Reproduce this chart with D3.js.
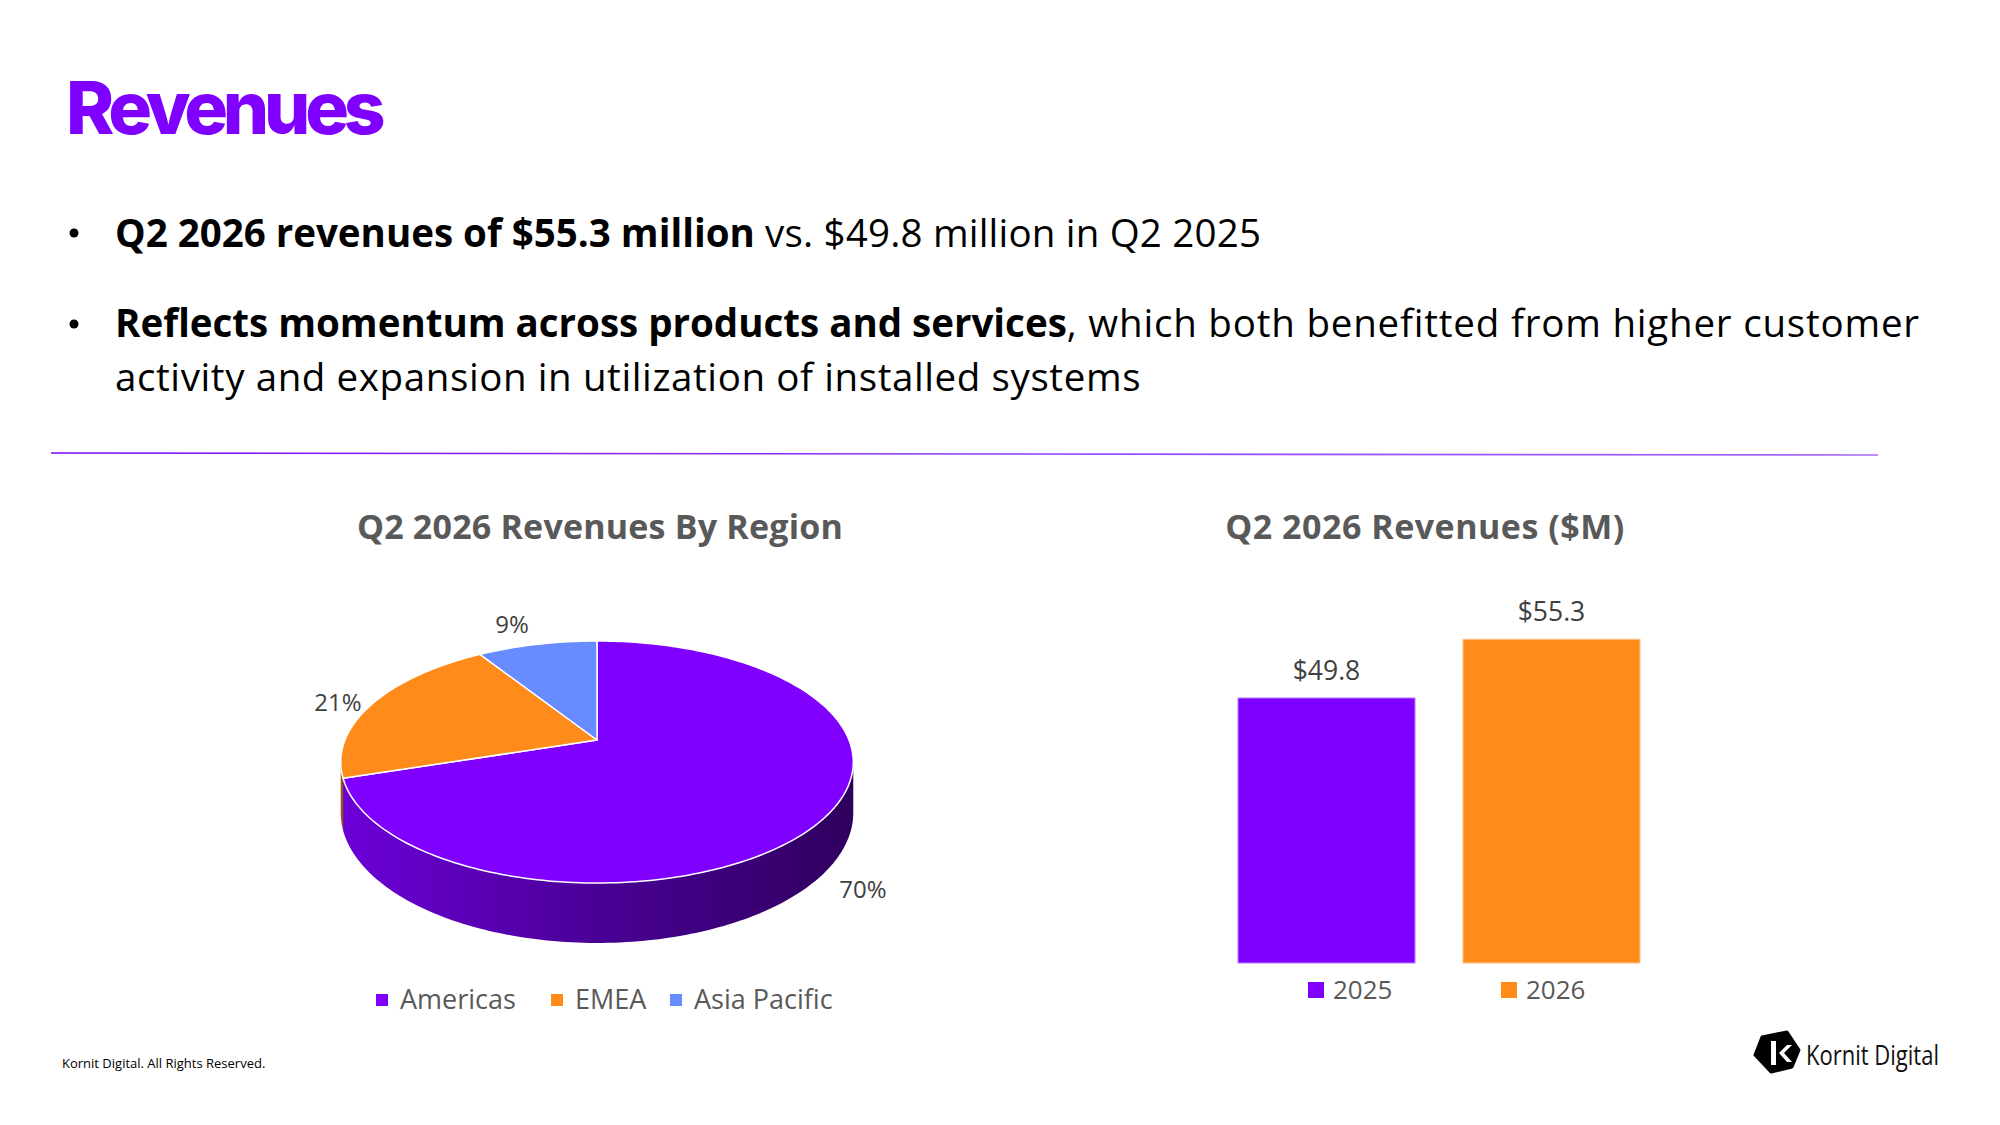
<!DOCTYPE html>
<html>
<head>
<meta charset="utf-8">
<script src="https://cdn.jsdelivr.net/npm/d3@7"></script>
<style>
  body { margin: 0; background: #fff; }
  text { font-family: "Open Sans", sans-serif; }
</style>
</head>
<body>
<script>
// chart values
var regions = ["Americas", "EMEA", "Asia Pacific"];
var regionShares = [70, 21, 9];
var regionColors = ["#8000FF", "#FF8C1A", "#668CFF"];
var regionSides = ["url(#sideGrad)", "#9a520f", "#3d5499"];

var years = ["2025", "2026"];
var revenues = [49.8, 55.3];
var yearColors = ["#8000FF", "#FF8C1A"];

var W = 2000, H = 1125;

var svg = d3.select("body")
            .append("svg")
            .attr("width", W)
            .attr("height", H);

var defs = svg.append("defs");
var lineGrad = defs.append("linearGradient").attr("id", "lineGrad");
lineGrad.append("stop").attr("offset", "0%").attr("stop-color", "#8000FF");
lineGrad.append("stop").attr("offset", "100%").attr("stop-color", "#A66BFF");

var sideGrad = defs.append("linearGradient")
                   .attr("id", "sideGrad")
                   .attr("gradientUnits", "userSpaceOnUse")
                   .attr("x1", 340).attr("x2", 853).attr("y1", 0).attr("y2", 0);
sideGrad.append("stop").attr("offset", "0%").attr("stop-color", "#6C00D8");
sideGrad.append("stop").attr("offset", "50%").attr("stop-color", "#4A0096");
sideGrad.append("stop").attr("offset", "100%").attr("stop-color", "#2F005E");

// heading + bullets
svg.append("text")
   .attr("x", 66).attr("y", 134)
   .style("font-family", "Inter")
   .style("font-weight", 800)
   .style("font-size", "73px")
   .style("letter-spacing", "-5.2px")
   .attr("fill", "#8000FF")
   .text("Revenues");

var bullets = [
  {y: 247, ls: "0.2px", parts: [["Q2 2026 revenues of $55.3 million", 700], [" vs. $49.8 million in Q2 2025", 400]]},
  {y: 337, ls: "0.8px", parts: [["Reflects momentum across products and services", 700], [", which both benefitted from higher customer", 400]]},
  {y: 391, ls: "0.6px", parts: [["activity and expansion in utilization of installed systems", 400]]}
];

svg.selectAll(".dot")
   .data([233, 324])
   .enter()
   .append("circle")
   .attr("cx", 74).attr("cy", function(d) { return d; })
   .attr("r", 4.5)
   .attr("fill", "#000");

bullets.forEach(function(b) {
  var t = svg.append("text")
             .attr("x", 115).attr("y", b.y)
             .style("font-size", "38.5px")
             .attr("fill", "#000");
  b.parts.forEach(function(p) {
    t.append("tspan")
     .style("font-weight", p[1])
     .style("letter-spacing", p[1] == 700 ? "0px" : b.ls)
     .text(p[0]);
  });
});

svg.append("line")
   .attr("x1", 51).attr("y1", 453)
   .attr("x2", 1878).attr("y2", 455)
   .attr("stroke", "url(#lineGrad)")
   .attr("stroke-width", 1.6);

// chart titles
svg.selectAll(".ctitle")
   .data([["Q2 2026 Revenues By Region", 600, "0.2px"], ["Q2 2026 Revenues ($M)", 1425, "0.5px"]])
   .enter()
   .append("text")
   .attr("x", function(d) { return d[1]; })
   .attr("y", 539)
   .attr("text-anchor", "middle")
   .style("font-weight", 700)
   .style("font-size", "34px")
   .style("letter-spacing", function(d) { return d[2]; })
   .attr("fill", "#595959")
   .text(function(d) { return d[0]; });

// 3D pie
var cx = 597, cy = 740, kR = 252, sR = 117, q = 0.182, depth = 49;
function proj(a, h) {
  var den = 1 + q * Math.cos(a);
  return [cx + kR * Math.sin(a) / den, cy + (-sR * Math.cos(a) + h) / den];
}
function arcPts(a0, a1, h) {
  var n = Math.max(2, Math.ceil((a1 - a0) / 0.02));
  return d3.range(n + 1).map(function(i) { return proj(a0 + (a1 - a0) * i / n, h); });
}

var slices = d3.pie().sort(null).value(function(d) { return d; })(regionShares);
var visL = Math.acos(-q), visR = 2 * Math.PI - Math.acos(-q);

var pieG = svg.append("g");
pieG.selectAll(".side")
    .data(slices.filter(function(d) { return d.endAngle > visL && d.startAngle < visR; }))
    .enter()
    .append("path")
    .attr("d", function(d) {
      var a0 = Math.max(d.startAngle, visL), a1 = Math.min(d.endAngle, visR);
      var pts = arcPts(a0, a1, 0).concat(arcPts(a0, a1, depth).reverse());
      return d3.line()(pts) + "Z";
    })
    .attr("fill", function(d) { return regionSides[d.index]; });

pieG.selectAll(".top")
    .data(slices)
    .enter()
    .append("path")
    .attr("d", function(d) {
      var pts = [[cx, cy]].concat(arcPts(d.startAngle, d.endAngle, 0));
      return d3.line()(pts) + "Z";
    })
    .attr("fill", function(d) { return regionColors[d.index]; })
    .attr("stroke", "#fff")
    .attr("stroke-width", 1.5)
    .attr("stroke-linejoin", "round");

var pctPos = [[863, 890], [338, 703], [512, 625]];
pieG.selectAll(".pct")
    .data(slices)
    .enter()
    .append("text")
    .attr("x", function(d) { return pctPos[d.index][0]; })
    .attr("y", function(d) { return pctPos[d.index][1]; })
    .attr("text-anchor", "middle")
    .attr("dy", "0.35em")
    .style("font-size", "24px")
    .attr("fill", "#404040")
    .text(function(d) { return d.data + "%"; });

// pie legend
var pieLegX = [376, 551, 670];
var pl = svg.selectAll(".pleg")
            .data(regions)
            .enter()
            .append("g")
            .attr("transform", function(d, i) { return "translate(" + pieLegX[i] + ",1000)"; });
pl.append("rect").attr("x", 0).attr("y", -6).attr("width", 12).attr("height", 12)
  .attr("fill", function(d, i) { return regionColors[i]; });
pl.append("text").attr("x", 24).attr("dy", "0.35em")
  .style("font-size", "27px").attr("fill", "#595959")
  .text(function(d) { return d; });

// bar chart
var x = d3.scaleBand().domain(years).range([1238, 1640]).paddingInner(0.2133).paddingOuter(0);
var y = d3.scaleLinear().domain([25, 60]).range([963, 589]);

svg.selectAll(".bar")
   .data(revenues)
   .enter()
   .append("rect")
   .attr("x", function(d, i) { return x(years[i]); })
   .attr("y", function(d) { return y(d); })
   .attr("width", x.bandwidth())
   .attr("height", function(d) { return y(25) - y(d); })
   .attr("fill", function(d, i) { return yearColors[i]; })
   .attr("stroke", function(d, i) { return i == 0 ? "#B37BFF" : "#FFC28A"; })
   .attr("stroke-width", 1);

svg.selectAll(".blab")
   .data(revenues)
   .enter()
   .append("text")
   .attr("x", function(d, i) { return x(years[i]) + x.bandwidth() / 2; })
   .attr("y", function(d) { return y(d) - 18; })
   .attr("text-anchor", "middle")
   .style("font-size", "26.5px")
   .attr("fill", "#404040")
   .text(function(d) { return "$" + d.toFixed(1); });

var barLegX = [1308, 1501];
var bl = svg.selectAll(".bleg")
            .data(years)
            .enter()
            .append("g")
            .attr("transform", function(d, i) { return "translate(" + barLegX[i] + ",990)"; });
bl.append("rect").attr("x", 0).attr("y", -8).attr("width", 16).attr("height", 16)
  .attr("fill", function(d, i) { return yearColors[i]; });
bl.append("text").attr("x", 25).attr("dy", "0.35em")
  .style("font-size", "26px").attr("fill", "#595959")
  .text(function(d) { return d; });

// footer
svg.append("text")
   .attr("x", 62).attr("y", 1068)
   .style("font-size", "13px")
   .attr("fill", "#000")
   .text("Kornit Digital. All Rights Reserved.");

var logo = svg.append("g");
logo.append("path")
    .attr("d", d3.line()([[1762, 1037], [1787, 1032], [1799, 1050], [1792, 1067], [1771, 1072], [1755, 1055]]) + "Z")
    .attr("fill", "#000")
    .attr("stroke", "#000")
    .attr("stroke-width", 3)
    .attr("stroke-linejoin", "round");
logo.append("path")
    .attr("d", "M1771,1041 L1771,1065 L1776,1065 L1776,1041 Z M1787,1045 L1779,1053 L1787,1062 L1792,1062 L1784,1053 L1792,1045 Z")
    .attr("fill", "#fff");
logo.append("text")
    .attr("x", 1806).attr("y", 1065)
    .style("font-size", "27px")
    .attr("textLength", 133)
    .attr("lengthAdjust", "spacingAndGlyphs")
    .attr("fill", "#111")
    .text("Kornit Digital");
</script>
</body>
</html>
